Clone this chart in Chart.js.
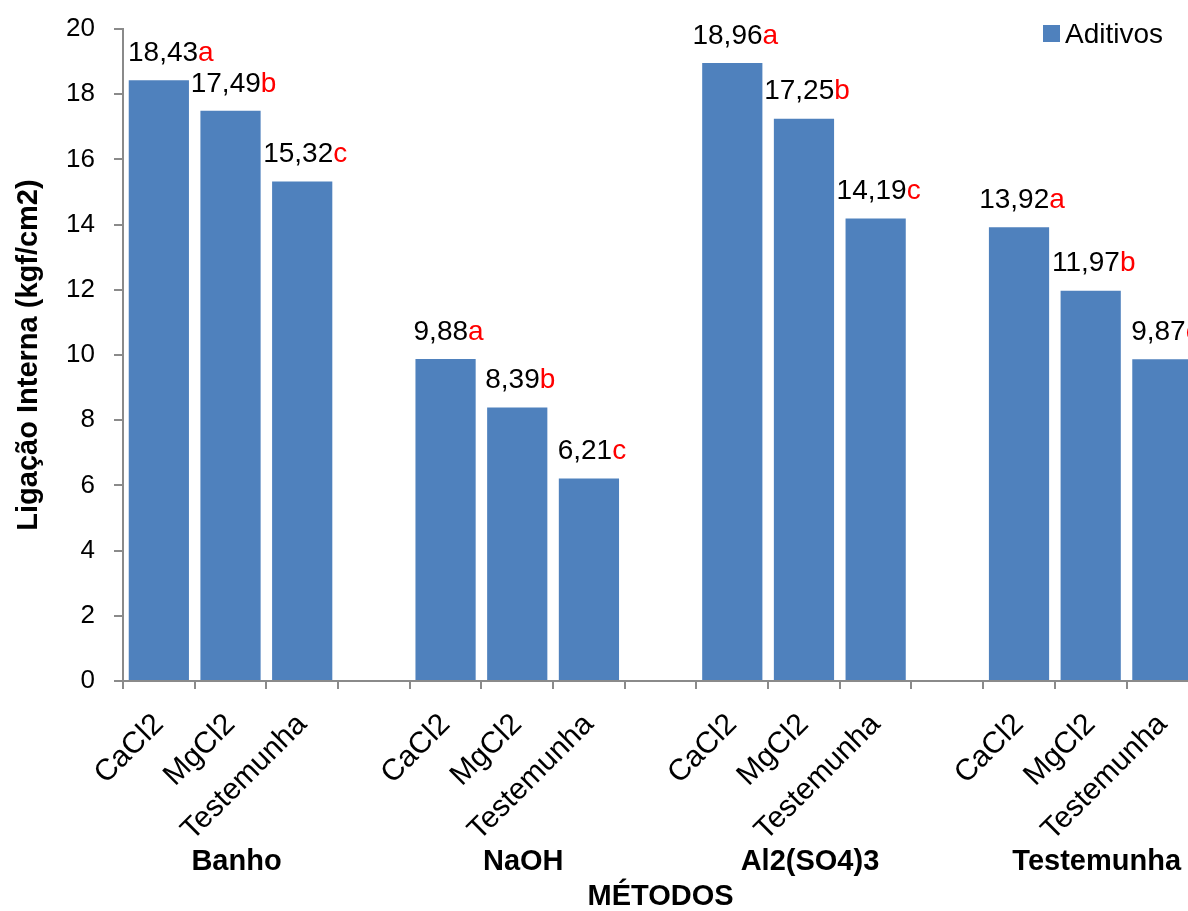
<!DOCTYPE html>
<html>
<head>
<meta charset="utf-8">
<script src="https://cdn.jsdelivr.net/npm/chart.js@4.4.1/dist/chart.umd.min.js"></script>
<style>
    html, body { margin: 0; padding: 0; background: #fff; overflow: hidden; }
    #wrap { position: relative; width: 1206px; height: 911px; }
</style>
</head>
<body>
<div id="wrap"><canvas id="ligacaoChart" width="1206" height="911"></canvas></div>
<script>
// Slots per method: three additives plus an empty spacer between groups
const categories = [
    'CaCl2', 'MgCl2', 'Testemunha', '',
    'CaCl2', 'MgCl2', 'Testemunha', '',
    'CaCl2', 'MgCl2', 'Testemunha', '',
    'CaCl2', 'MgCl2', 'Testemunha'
];
const values = [
    18.43, 17.49, 15.32, null,
    9.88, 8.39, 6.21, null,
    18.96, 17.25, 14.19, null,
    13.92, 11.97, 9.87
];
const letters = [
    'a', 'b', 'c', '',
    'a', 'b', 'c', '',
    'a', 'b', 'c', '',
    'a', 'b', 'c'
];
const methods = ['Banho', 'NaOH', 'Al2(SO4)3', 'Testemunha'];
const methodCenterSlots = [1, 5, 9, 13];
const yTicks = [0, 2, 4, 6, 8, 10, 12, 14, 16, 18, 20];

const FONT = '"Liberation Sans", Arial, sans-serif';
const BAR_COLOR = '#4f81bd';
const AXIS_COLOR = '#8a8a8a';

// Comma decimal numbers with a red significance letter above each bar
const valueLabels = {
    id: 'valueLabels',
    afterDatasetsDraw(chart) {
        const ctx = chart.ctx;
        const area = chart.chartArea;
        const meta = chart.getDatasetMeta(0);
        ctx.save();
        ctx.font = '28px ' + FONT;
        ctx.textBaseline = 'middle';
        ctx.textAlign = 'left';
        meta.data.forEach((bar, i) => {
            if (values[i] === null) return;
            const num = values[i].toFixed(2).replace('.', ',');
            const wNum = ctx.measureText(num).width;
            const wLet = ctx.measureText(letters[i]).width;
            let left = bar.x - (wNum + wLet) / 2 + 3;
            left = Math.max(left, area.left + 5);
            const y = bar.y - 27;
            ctx.fillStyle = '#000';
            ctx.fillText(num, left, y);
            ctx.fillStyle = '#ff0000';
            ctx.fillText(letters[i], left + wNum, y);
        });
        ctx.restore();
    }
};

// Method names under the rotated labels, axis title and legend
const extras = {
    id: 'extras',
    afterDraw(chart) {
        const ctx = chart.ctx;
        const x = chart.scales.x;
        const area = chart.chartArea;
        ctx.save();
        ctx.fillStyle = '#000';
        ctx.textAlign = 'center';
        ctx.textBaseline = 'middle';
        ctx.font = 'bold 29px ' + FONT;
        methods.forEach((m, i) => {
            ctx.fillText(m, x.getPixelForValue(methodCenterSlots[i]) + 6, 862);
        });
        ctx.fillText('MÉTODOS', (area.left + area.right) / 2, 897);

        // legend
        ctx.fillStyle = BAR_COLOR;
        ctx.fillRect(1043, 25, 17, 17);
        ctx.fillStyle = '#000';
        ctx.textAlign = 'left';
        ctx.font = '28px ' + FONT;
        ctx.fillText('Aditivos', 1065, 35);
        ctx.restore();
    }
};

new Chart(document.getElementById('ligacaoChart'), {
    type: 'bar',
    data: {
        labels: categories,
        datasets: [{
            label: 'Aditivos',
            data: values,
            backgroundColor: BAR_COLOR,
            borderWidth: 0,
            barPercentage: 0.84,
            categoryPercentage: 1.0
        }]
    },
    options: {
        responsive: false,
        animation: false,
        devicePixelRatio: 1,
        layout: { padding: { top: 29, right: 5, bottom: 0, left: 0 } },
        plugins: {
            legend: { display: false },
            tooltip: { enabled: false }
        },
        scales: {
            x: {
                afterFit(scale) { scale.height = 230; },
                grid: {
                    drawOnChartArea: false,
                    drawTicks: true,
                    tickLength: 8,
                    color: AXIS_COLOR,
                    lineWidth: 2
                },
                border: { display: true, color: AXIS_COLOR, width: 2 },
                ticks: {
                    autoSkip: false,
                    minRotation: 45,
                    maxRotation: 45,
                    padding: 18,
                    color: '#000',
                    font: { family: FONT, size: 30 }
                }
            },
            y: {
                min: 0,
                max: 20,
                afterFit(scale) {
                    scale.width = 123;
                    scale.paddingTop = 0;
                    scale.paddingBottom = 0;
                },
                afterBuildTicks(scale) {
                    scale.ticks = yTicks.map(v => ({ value: v }));
                },
                grid: {
                    drawOnChartArea: false,
                    drawTicks: true,
                    tickLength: 9,
                    color: AXIS_COLOR,
                    lineWidth: 2
                },
                border: { display: true, color: AXIS_COLOR, width: 2 },
                ticks: {
                    padding: 19,
                    color: '#000',
                    font: { family: FONT, size: 26 }
                },
                title: {
                    display: true,
                    text: 'Ligação Interna (kgf/cm2)',
                    color: '#000',
                    font: { family: FONT, size: 29, weight: 'bold' },
                    padding: { top: 12, bottom: 0 }
                }
            }
        }
    },
    plugins: [valueLabels, extras]
});
</script>
</body>
</html>
